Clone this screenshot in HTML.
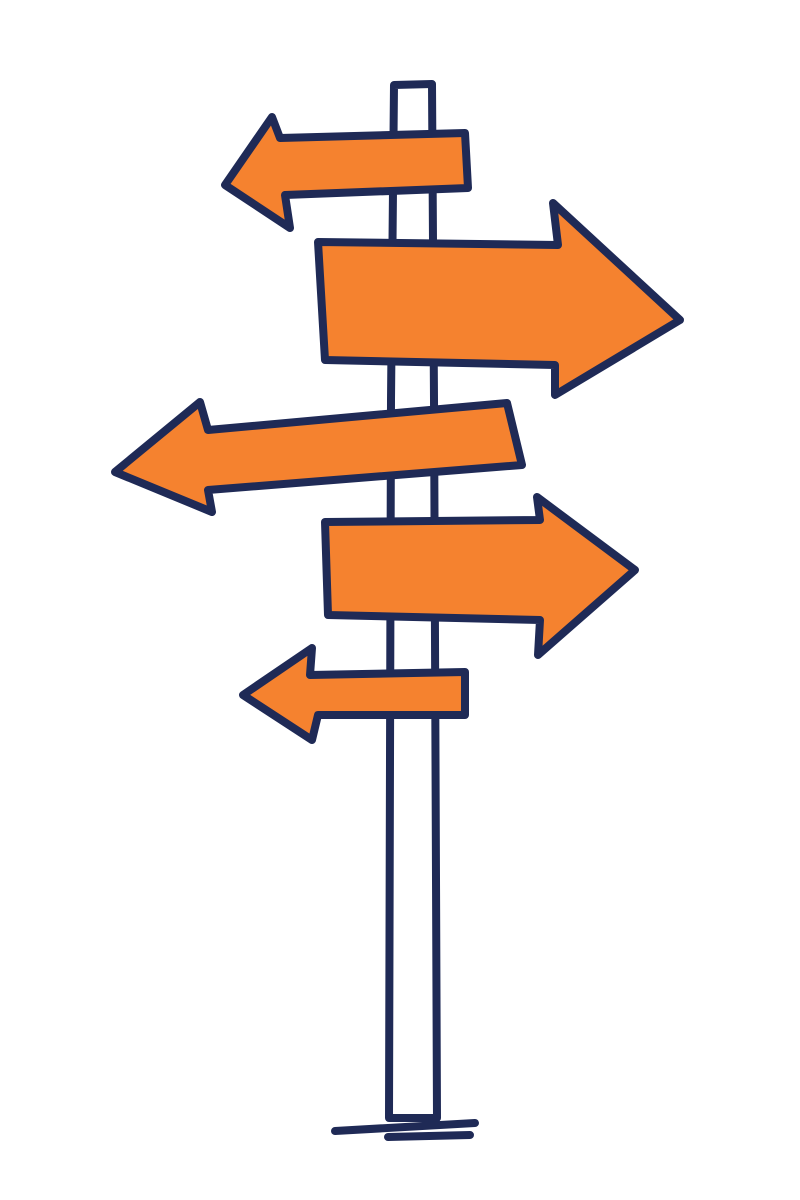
<!DOCTYPE html>
<html><head><meta charset="utf-8"><style>
html,body{margin:0;padding:0;background:#fff;width:800px;height:1200px;overflow:hidden}
</style></head><body>
<svg width="800" height="1200" viewBox="0 0 800 1200" xmlns="http://www.w3.org/2000/svg">
<g stroke="#1f2a56" stroke-width="8" stroke-linejoin="round" stroke-linecap="round">
<path d="M394,85 L432,84 L434,400 L437,1118 L389,1118 L391,400 Z" fill="#fff"/>
<path d="M335,1131 L475,1123" fill="none"/>
<path d="M388,1137 L470,1135" fill="none"/>
<path d="M465,133 L280,138 L272,117 L225,185 L290,228 L285,195 L468,188 Z" fill="#f5822f"/>
<path d="M318,242 L558,245 L553,203 L680,320 L555,395 L555,365 L325,360 Z" fill="#f5822f"/>
<path d="M507,403 L208,430 L200,402 L115,472 L212,512 L208,490 L522,465 Z" fill="#f5822f"/>
<path d="M325,522 L540,520 L537,497 L635,570 L538,655 L540,620 L328,615 Z" fill="#f5822f"/>
<path d="M465,672 L310,675 L312,648 L243,695 L312,740 L318,715 L465,715 Z" fill="#f5822f"/>
</g>
</svg>
</body></html>
